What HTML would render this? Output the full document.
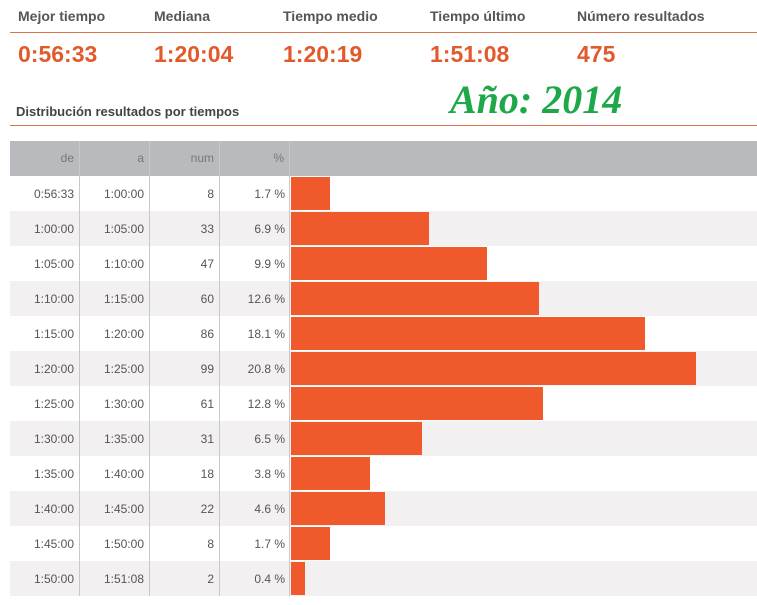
<!DOCTYPE html>
<html><head><meta charset="utf-8"><style>
body{margin:0;width:757px;height:605px;background:#fff;font-family:"Liberation Sans",sans-serif;overflow:hidden;position:relative}
.abs{position:absolute}
.lbl{top:8px;font-size:14px;font-weight:bold;color:#555}
.val{top:41px;font-size:23px;font-weight:bold;color:#e25a2c}
.line{left:10px;right:0;height:1px;background:#d9764f}
.cell{position:absolute;font-size:12px;color:#555;text-align:right;width:62px}
</style></head><body>
<div class="abs lbl" style="left:18px">Mejor tiempo</div>
<div class="abs lbl" style="left:154px">Mediana</div>
<div class="abs lbl" style="left:283px">Tiempo medio</div>
<div class="abs lbl" style="left:430px">Tiempo último</div>
<div class="abs lbl" style="left:577px">Número resultados</div>
<div class="abs line" style="top:32px"></div>
<div class="abs val" style="left:18px">0:56:33</div>
<div class="abs val" style="left:154px">1:20:04</div>
<div class="abs val" style="left:283px">1:20:19</div>
<div class="abs val" style="left:430px">1:51:08</div>
<div class="abs val" style="left:577px">475</div>
<div class="abs" style="left:450px;top:76px;font-family:'Liberation Serif',serif;font-style:italic;font-weight:bold;font-size:40px;color:#1fa84a">Año: 2014</div>
<div class="abs" style="left:16px;top:104px;font-size:13px;font-weight:bold;color:#444">Distribución resultados por tiempos</div>
<div class="abs line" style="top:125px"></div>
<div id="tbl" class="abs" style="left:0;top:0"></div>
<script>
const fromTimes=["0:56:33","1:00:00","1:05:00","1:10:00","1:15:00","1:20:00","1:25:00","1:30:00","1:35:00","1:40:00","1:45:00","1:50:00"];
const toTimes=["1:00:00","1:05:00","1:10:00","1:15:00","1:20:00","1:25:00","1:30:00","1:35:00","1:40:00","1:45:00","1:50:00","1:51:08"];
const counts=[8,33,47,60,86,99,61,31,18,22,8,2];
const percents=[1.7,6.9,9.9,12.6,18.1,20.8,12.8,6.5,3.8,4.6,1.7,0.4];
const tbl=document.getElementById('tbl');
function xw(p){return 6+p*19.2;}
function add(parent,css,text){const d=document.createElement('div');d.style.cssText=css;if(text!==undefined)d.textContent=text;parent.appendChild(d);return d;}
const hdr=add(tbl,'position:absolute;left:10px;top:141px;width:747px;height:35px;background:#b9babe');


const heads=["de","a","num","%"];
heads.forEach((h,i)=>{const c=add(tbl,'position:absolute;left:'+(10+i*70)+'px;top:151px;width:64px;text-align:right;font-size:12px;color:#777',h);

});
const rowH=35;
counts.forEach((n,i)=>{
 const y=176+i*rowH;
 const r=add(tbl,'position:absolute;left:10px;top:'+y+'px;width:747px;height:'+rowH+'px;background:'+(i%2?'#f2f0f1':'#fff'));
 
 
 const vals=[fromTimes[i],toTimes[i],String(n),percents[i].toFixed(1)+' %'];
 vals.forEach((v,j)=>{const c=add(tbl,'position:absolute;left:'+(10+j*70)+'px;top:'+(y+11)+'px;width:'+(j==3?65:64)+'px;text-align:right;font-size:12px;color:#555',v);
  
  });
 const b=add(tbl,'position:absolute;left:291px;top:'+(y+1)+'px;height:'+(rowH-2)+'px;width:'+xw(percents[i])+'px;background:#f0592b');
 
 
});
[79,149,219,289].forEach(x=>{const s=add(tbl,'position:absolute;left:'+x+'px;top:141px;width:1px;height:'+(35+rowH*counts.length)+'px;background:#c8c8c8');
 
 });
</script>
</body></html>
